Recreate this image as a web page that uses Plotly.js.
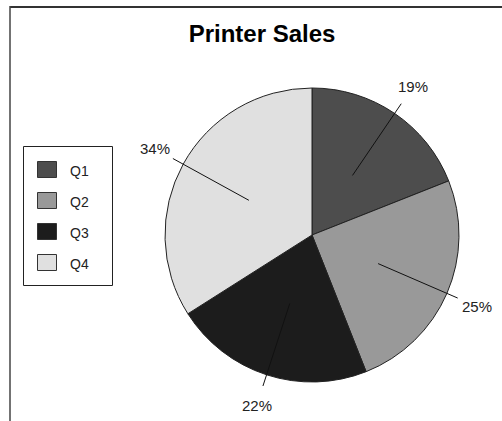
<!DOCTYPE html>
<html>
<head>
<meta charset="utf-8">
<script src="https://cdn.plot.ly/plotly-3.0.1.min.js"></script>
<style>
html,body{margin:0;padding:0;background:#fff;}
#chart{width:502px;height:421px;}
</style>
</head>
<body>
<div id="chart"></div>
<script>
const categories = ["Q1", "Q2", "Q3", "Q4"];
const sales = [19, 25, 22, 34];
const percentLabels = ["19%", "25%", "22%", "34%"];
const sliceColors = ["#4d4d4d", "#999999", "#1c1c1c", "#e0e0e0"];

const W = 502, H = 421;
const CX = 312, CY = 235, R = 147;
const px = x => x / W;
const py = y => 1 - y / H;

const total = sales.reduce((a, b) => a + b, 0);
const shapes = [];
const annotations = [];

// frame
shapes.push({type: "line", xref: "paper", yref: "paper", x0: px(10), x1: 1, y0: py(7), y1: py(7), line: {color: "#333", width: 2}});
shapes.push({type: "line", xref: "paper", yref: "paper", x0: px(10), x1: px(10), y0: py(6), y1: 0, line: {color: "#444", width: 1.5}});

// leader lines and labels, angles derived from the data
let cum = 0;
sales.forEach((v, i) => {
  const mid = (cum + v / 2) / total * 2 * Math.PI;
  cum += v;
  const sx = Math.sin(mid), sy = -Math.cos(mid);
  const r0 = 0.49 * R, r1 = 1.08 * R, rt = 1.22 * R;
  shapes.push({
    type: "line", xref: "paper", yref: "paper",
    x0: px(CX + r0 * sx), y0: py(CY + r0 * sy),
    x1: px(CX + r1 * sx), y1: py(CY + r1 * sy),
    line: {color: "#111", width: 1}
  });
  annotations.push({
    xref: "paper", yref: "paper",
    x: px(CX + rt * sx), y: py(CY + rt * sy),
    xanchor: "center", yanchor: "middle",
    text: percentLabels[i], showarrow: false,
    font: {family: "Liberation Sans, Arial, sans-serif", size: 15, color: "#222"}
  });
});

// legend box
shapes.push({type: "rect", xref: "paper", yref: "paper", x0: px(23.5), x1: px(112.5), y0: py(146.5), y1: py(285.5), line: {color: "#222", width: 1}, fillcolor: "#fff"});
categories.forEach((c, i) => {
  const top = 161 + i * 31;
  shapes.push({type: "rect", xref: "paper", yref: "paper", x0: px(37.5), x1: px(56.5), y0: py(top + 0.5), y1: py(top + 16.5), line: {color: "#333", width: 1}, fillcolor: sliceColors[i]});
  annotations.push({
    xref: "paper", yref: "paper", x: px(68), y: py(top + 10),
    xanchor: "left", yanchor: "middle", text: c, showarrow: false,
    font: {family: "Liberation Sans, Arial, sans-serif", size: 14, color: "#222"}
  });
});

const data = [{
  type: "pie",
  labels: categories,
  values: sales,
  sort: false,
  direction: "clockwise",
  rotation: 0,
  marker: {colors: sliceColors, line: {color: "#222", width: 1}},
  textinfo: "none",
  hoverinfo: "label+percent",
  showlegend: false,
  domain: {x: [px(CX - R), px(CX + R)], y: [py(CY + R), py(CY - R)]}
}];

const layout = {
  width: W, height: H,
  margin: {l: 0, r: 0, t: 0, b: 0},
  paper_bgcolor: "#fff",
  showlegend: false,
  title: {
    text: "<b>Printer Sales</b>",
    x: px(262), xanchor: "center",
    y: py(34), yanchor: "middle", yref: "paper",
    font: {family: "Liberation Sans, Arial, sans-serif", size: 24, color: "#000"}
  },
  shapes: shapes,
  annotations: annotations
};

Plotly.newPlot("chart", data, layout, {displayModeBar: false, staticPlot: true});
</script>
</body>
</html>
